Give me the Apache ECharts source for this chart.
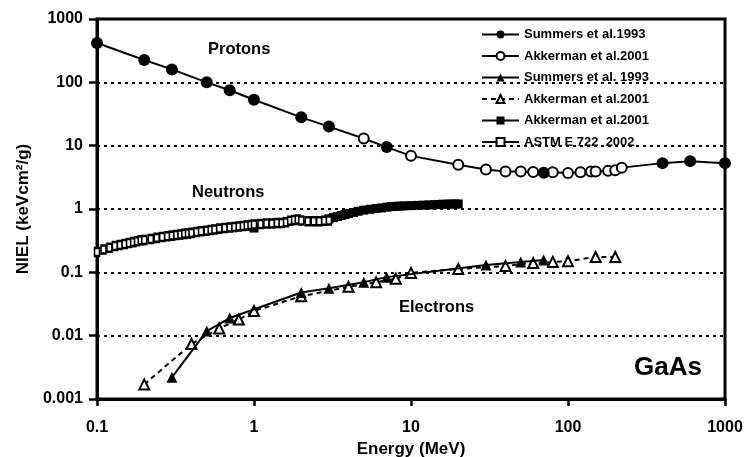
<!DOCTYPE html>
<html>
<head>
<meta charset="utf-8">
<script src="https://cdn.jsdelivr.net/npm/echarts@6/dist/echarts.min.js"></script>
<style>
  html, body { margin: 0; padding: 0; background: #fff; }
  #chart { width: 746px; height: 457px; }
</style>
</head>
<body>
<div id="chart"></div>
<script>
// protons
const summersProtonE = [0.1, 0.2, 0.3, 0.5, 0.7, 1, 2, 3, 7, 70, 400, 600, 1000];
const summersProtonNiel = [417, 225, 160, 100, 75, 53, 28, 20, 9.5, 3.75, 5.3, 5.7, 5.3];
const akkermanProtonE = [5, 10, 20, 30, 40, 50, 60, 80, 100, 120, 140, 150, 180, 200, 220];
const akkermanProtonNiel = [13, 6.9, 5.0, 4.2, 3.9, 3.9, 3.85, 3.8, 3.7, 3.8, 3.9, 3.9, 4.0, 4.1, 4.5];

// electrons
const summersElecE = [0.3, 0.5, 0.7, 2, 3, 5, 7, 30, 50, 70];
const summersElecNiel = [0.0022, 0.0118, 0.019, 0.048, 0.056, 0.07, 0.084, 0.13, 0.146, 0.157];
const akkermanElecE = [0.2, 0.4, 0.6, 0.8, 1, 2, 4, 6, 8, 10, 20, 40, 60, 80, 100, 150, 200];
const akkermanElecNiel = [0.0017, 0.0074, 0.013, 0.018, 0.0245, 0.042, 0.059, 0.07, 0.079, 0.098,
  0.113, 0.126, 0.14, 0.146, 0.15, 0.175, 0.175];

// neutrons
const akkermanNeutE = [1, 3, 3.2, 3.4, 3.6, 3.8, 4, 4.3, 4.6, 5, 5.5, 6, 6.5, 7, 7.5, 8, 8.5, 9,
  10, 11, 12, 13, 14, 15, 16, 17, 18, 19, 20];
const akkermanNeutNiel = [0.5, 0.7, 0.73, 0.76, 0.79, 0.82, 0.85, 0.88, 0.92, 0.96, 0.99, 1.02, 1.04,
  1.07, 1.09, 1.1, 1.11, 1.12, 1.13, 1.14, 1.15, 1.16, 1.17, 1.18, 1.19, 1.19, 1.2, 1.2, 1.2];
const astmNeutE = [0.1, 0.11, 0.12, 0.13, 0.14, 0.15, 0.16, 0.17, 0.18, 0.19, 0.2, 0.22, 0.24, 0.26,
  0.28, 0.3, 0.32, 0.34, 0.36, 0.38, 0.4, 0.43, 0.46, 0.5, 0.53, 0.56, 0.6, 0.65, 0.7, 0.75, 0.8,
  0.85, 0.9, 0.95, 1.0, 1.1, 1.2, 1.3, 1.4, 1.5, 1.6, 1.7, 1.8, 1.9, 2.0, 2.2, 2.4, 2.6, 2.8, 3.0];
const astmNeutNiel = [0.21, 0.23, 0.245, 0.26, 0.27, 0.28, 0.29, 0.3, 0.31, 0.32, 0.325, 0.335, 0.35,
  0.36, 0.37, 0.38, 0.39, 0.395, 0.405, 0.41, 0.42, 0.435, 0.445, 0.455, 0.465, 0.475, 0.49, 0.5,
  0.51, 0.52, 0.53, 0.54, 0.55, 0.56, 0.57, 0.58, 0.59, 0.59, 0.6, 0.6, 0.62, 0.65, 0.67, 0.68,
  0.66, 0.64, 0.64, 0.64, 0.65, 0.66];

const xTicks = [0.1, 1, 10, 100, 1000];
const yTicks = [0.001, 0.01, 0.1, 1, 10, 100, 1000];

const legendNames = {
  p1: 'Summers et al.1993',
  p2: 'Akkerman et al.2001',
  e1: 'Summers et al. 1993',
  e2: 'Akkerman et al.2001',
  n1: 'Akkerman et al.2001',
  n2: 'ASTM E 722  2002'
};

const FONT = "'Liberation Sans', Arial, Helvetica, sans-serif";

function pairs(xs, ys) {
  return xs.map((x, i) => [x, ys[i]]);
}

// one line through both proton sets
const protonLine = pairs(summersProtonE, summersProtonNiel)
  .concat(pairs(akkermanProtonE, akkermanProtonNiel))
  .sort((a, b) => a[0] - b[0]);

function fmt(v) {
  return String(parseFloat(Number(v).toPrecision(3)));
}

let chart = echarts.init(document.getElementById('chart'), null, { renderer: 'canvas' });
chart.setOption({
  animation: false,
  backgroundColor: '#fff',
  textStyle: { fontFamily: FONT },
  grid: {
    left: 97, right: 21, top: 19, bottom: 58,
    outerBoundsMode: 'none', containLabel: false,
    show: true, borderColor: '#000', borderWidth: 3, backgroundColor: 'transparent'
  },
  legend: {
    orient: 'vertical',
    left: 476, top: 23,
    itemWidth: 37, itemHeight: 10, itemGap: 8.5,
    selectedMode: false,
    formatter: name => legendNames[name],
    textStyle: { fontFamily: FONT, fontWeight: 'bold', fontSize: 13, color: '#000' },
    data: [
      { name: 'p1', lineStyle: { opacity: 1, width: 2, color: '#000', type: 'solid' } },
      { name: 'p2', lineStyle: { opacity: 1, width: 2, color: '#000', type: 'solid' } },
      { name: 'e1' },
      { name: 'e2' },
      { name: 'n1' },
      { name: 'n2' }
    ]
  },
  xAxis: {
    type: 'log', logBase: 10, min: 0.1, max: 1000,
    name: 'Energy (MeV)', nameLocation: 'middle', nameGap: 39,
    nameTextStyle: { fontFamily: FONT, fontWeight: 'bold', fontSize: 17, color: '#000' },
    axisLine: { show: true, lineStyle: { color: '#000', width: 3 } },
    axisTick: { show: true, inside: false, length: 7, lineStyle: { color: '#000', width: 2.5 } },
    minorTick: { show: false },
    splitLine: { show: false },
    axisLabel: {
      margin: 21, fontFamily: FONT, fontWeight: 'bold', fontSize: 16, color: '#000',
      formatter: v => xTicks.some(t => Math.abs(Math.log10(t) - Math.log10(v)) < 1e-6) ? fmt(v) : ''
    }
  },
  yAxis: {
    type: 'log', logBase: 10, min: 0.001, max: 1000,
    name: 'NIEL (keVcm²/g)', nameLocation: 'middle', nameGap: 63, nameRotate: 90,
    nameTextStyle: { fontFamily: FONT, fontWeight: 'bold', fontSize: 17, color: '#000' },
    axisLine: { show: true, lineStyle: { color: '#000', width: 3 } },
    axisTick: { show: true, inside: false, length: 8, lineStyle: { color: '#000', width: 2.5 } },
    minorTick: { show: false },
    splitLine: {
      show: true, showMinLine: false, showMaxLine: false,
      lineStyle: { color: '#000', width: 2, type: [3, 4] }
    },
    axisLabel: {
      margin: 14, fontFamily: FONT, fontWeight: 'bold', fontSize: 16, color: '#000',
      formatter: v => yTicks.some(t => Math.abs(Math.log10(t) - Math.log10(v)) < 1e-6) ? fmt(v) : ''
    }
  },
  graphic: [
    { type: 'text', left: 208, top: 41, style: { text: 'Protons', font: 'bold 16.5px ' + FONT, fill: '#000' } },
    { type: 'text', left: 192, top: 184, style: { text: 'Neutrons', font: 'bold 16.5px ' + FONT, fill: '#000' } },
    { type: 'text', left: 399, top: 299, style: { text: 'Electrons', font: 'bold 16.5px ' + FONT, fill: '#000' } },
    { type: 'text', left: 634, top: 355, style: { text: 'GaAs', font: 'bold 26px ' + FONT, fill: '#000' } }
  ],
  series: [
    {
      name: 'protonLine', type: 'line', data: protonLine, symbol: 'none', z: 1,
      lineStyle: { color: '#000', width: 2 }, silent: true
    },
    {
      name: 'p1', type: 'line', data: pairs(summersProtonE, summersProtonNiel),
      symbol: 'circle', symbolSize: 12, z: 4,
      itemStyle: { color: '#000' }, lineStyle: { opacity: 0 }
    },
    {
      name: 'p2', type: 'line', data: pairs(akkermanProtonE, akkermanProtonNiel),
      symbol: 'emptyCircle', symbolSize: 10, z: 3,
      itemStyle: { color: '#000', borderColor: '#000', borderWidth: 2 }, lineStyle: { opacity: 0 }
    },
    {
      name: 'e1', type: 'line', data: pairs(summersElecE, summersElecNiel),
      symbol: 'triangle', symbolSize: 11, z: 4,
      itemStyle: { color: '#000' }, lineStyle: { color: '#000', width: 2 }
    },
    {
      name: 'e2', type: 'line', data: pairs(akkermanElecE, akkermanElecNiel),
      symbol: 'emptyTriangle', symbolSize: 10, z: 3,
      itemStyle: { color: '#000', borderColor: '#000', borderWidth: 1.5 },
      lineStyle: { color: '#000', width: 2, type: [5, 4] }
    },
    {
      name: 'n1', type: 'line', data: pairs(akkermanNeutE, akkermanNeutNiel),
      symbol: 'rect', symbolSize: 9, z: 3,
      itemStyle: { color: '#000' }, lineStyle: { color: '#000', width: 2 }
    },
    {
      name: 'n2', type: 'line', data: pairs(astmNeutE, astmNeutNiel),
      symbol: 'emptyRect', symbolSize: [5, 8], z: 4,
      itemStyle: { color: '#000', borderColor: '#000', borderWidth: 1.4 },
      lineStyle: { color: '#000', width: 1 }
    }
  ]
});
</script>
</body>
</html>
